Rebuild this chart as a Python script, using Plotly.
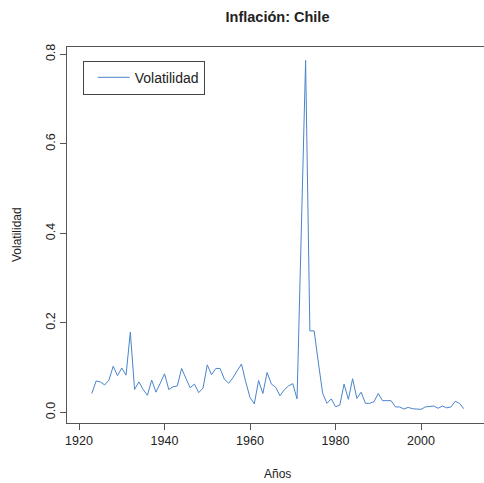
import plotly.graph_objects as go

years = list(range(1923, 2011))
volatilidad = [
    0.042, 0.070, 0.068, 0.061, 0.072, 0.103, 0.082, 0.099, 0.083, 0.179,  # 1923-1932
    0.051, 0.068, 0.051, 0.038, 0.072, 0.045, 0.065, 0.086, 0.051, 0.057,  # 1933-1942
    0.059, 0.098, 0.076, 0.055, 0.063, 0.044, 0.054, 0.106, 0.084, 0.098,  # 1943-1952
    0.098, 0.074, 0.065, 0.077, 0.093, 0.108, 0.068, 0.033, 0.019, 0.071,  # 1953-1962
    0.042, 0.089, 0.063, 0.056, 0.037, 0.050, 0.059, 0.064, 0.030, 0.400,  # 1963-1972
    0.786, 0.182, 0.182, 0.110, 0.042, 0.020, 0.030, 0.0125, 0.016, 0.063,  # 1973-1982
    0.029, 0.075, 0.031, 0.045, 0.020, 0.020, 0.024, 0.042, 0.026, 0.026,  # 1983-1992
    0.026, 0.012, 0.012, 0.0074, 0.011, 0.008, 0.0066, 0.0066, 0.012, 0.013,  # 1993-2002
    0.014, 0.009, 0.014, 0.010, 0.012, 0.0246, 0.020, 0.008,  # 2003-2010
]
x_ticks = [1920, 1940, 1960, 1980, 2000]
y_ticks = [0.0, 0.2, 0.4, 0.6, 0.8]
y_ticktext = ["0.0", "0.2", "0.4", "0.6", "0.8"]

FONT = "Liberation Sans, Arial, sans-serif"
AXC = "#555555"
TXT = "#222222"

fig = go.Figure()
fig.add_trace(go.Scatter(
    x=years, y=volatilidad, mode="lines", name="Volatilidad",
    line=dict(color="#4a84cc", width=1),
))

fig.update_layout(
    width=484, height=483,
    margin=dict(l=67, r=0, t=47, b=60),
    paper_bgcolor="white", plot_bgcolor="white",
    font=dict(family=FONT, color=TXT, size=12),
    title=dict(text="<b>Inflación: Chile</b>", font=dict(size=14.5, color=TXT, family=FONT),
               xref="paper", x=0.5048, xanchor="center",
               yref="container", y=1 - 17 / 483, yanchor="middle"),
    showlegend=True,
    legend=dict(x=(82.7 - 67) / 417, y=(423 - 60.7) / 376, xanchor="left", yanchor="top",
                bordercolor="#444444", borderwidth=1, bgcolor="white",
                indentation=9, itemwidth=32,
                font=dict(size=14, family=FONT, color=TXT)),
    xaxis=dict(range=[1917.19, 2014.73], showgrid=False, zeroline=False,
               showline=True, linecolor=AXC, linewidth=1, mirror=True,
               ticks="outside", ticklen=6, tickcolor=AXC,
               tickvals=x_ticks, tickfont=dict(size=12.5, family=FONT, color=TXT)),
    yaxis=dict(range=[-0.0239, 0.8163], showgrid=False, zeroline=False,
               showline=True, linecolor=AXC, linewidth=1,
               ticks="outside", ticklen=6, tickcolor=AXC,
               tickvals=y_ticks, ticktext=y_ticktext, tickangle=-90,
               tickfont=dict(size=12.5, family=FONT, color=TXT)),
    annotations=[
        dict(text="Años", xref="paper", yref="paper", x=(277.8 - 67) / 417,
             y=(423 - 473.5) / 376, xanchor="center", yanchor="middle",
             showarrow=False, font=dict(size=12, family=FONT, color=TXT)),
        dict(text="Volatilidad", xref="paper", yref="paper", x=(17 - 67) / 417,
             y=0.5, xanchor="center", yanchor="middle", textangle=-90,
             showarrow=False, font=dict(size=12, family=FONT, color=TXT)),
    ],
)

fig.write_html("out.html")
